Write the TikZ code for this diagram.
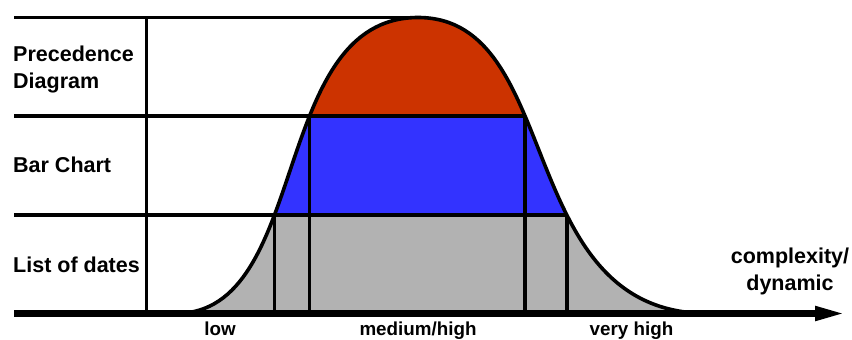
\documentclass[tikz,border=0pt]{standalone}
\usepackage{fontspec}
\setmainfont{Liberation Sans}
\usetikzlibrary{arrows.meta,intersections}
\definecolor{precred}{HTML}{CC3300}
\definecolor{barblue}{HTML}{3333FF}
\definecolor{listgrey}{HTML}{B2B2B2}
\newcommand{\bellcurve}{(176,313.5) .. controls (311,313.5) and (269,17.5) .. (418,17.5) .. controls (565,17.5) and (513,313.5) .. (708,313.5)}

\begin{document}
\begin{tikzpicture}[x=1pt,y=-1pt,
  rule/.style={line width=3.6pt},
  lbl/.style={font=\fontsize{21.5}{27}\selectfont\bfseries,inner sep=0pt},
  axlbl/.style={font=\fontsize{18.8}{23}\selectfont\bfseries,inner sep=0pt,anchor=base}]
\useasboundingbox (0,0) rectangle (852,340);

\coordinate (origin) at (14,313.5);
\coordinate (peak) at (418,17.5);

\path[name path=bell] \bellcurve;
\path[name path=lineA] (14,116) -- (852,116);
\path[name path=lineB] (14,215) -- (852,215);
\path[name intersections={of=bell and lineA,by={a1,a2},sort by=lineA}];
\path[name intersections={of=bell and lineB,by={b1,b2},sort by=lineB}];

\begin{scope}
\clip \bellcurve -- cycle;
\fill[precred] (150,0) rectangle (720,116);
\fill[barblue] (150,116) rectangle (720,215);
\fill[listgrey] (150,215) rectangle (720,313.5);
\end{scope}

\draw[rule] (14,17.5) -- (peak);
\draw[rule] (14,116) -- (a2);
\draw[rule] (14,215) -- (b2);
\draw[rule] (146.5,17.5) -- (146.5,313.5);

\draw[rule] (a1) -- (a1 |- origin);
\draw[rule] (a2) -- (a2 |- origin);
\draw[rule] (b1) -- (b1 |- origin);
\draw[rule] (b2) -- (b2 |- origin);

\draw[rule] \bellcurve;
\draw[line width=7pt,-{Triangle[length=32pt,width=13pt]}] (origin) -- (847,313.5);

\node[lbl,anchor=base west,align=left] (prec) at (13,88) {Precedence\\Diagram};
\node[lbl,anchor=base west] (bar) at (13,172) {Bar Chart};
\node[lbl,anchor=base west] (list) at (13,272) {List of dates};
\node[lbl,anchor=base,align=center] (cplx) at (790,290) {complexity/\\dynamic};

\node[axlbl] (low) at (220,335) {low};
\node[axlbl] (med) at (418,335) {medium/high};
\node[axlbl] (vhigh) at (631.5,335) {very high};
\end{tikzpicture}
\end{document}
